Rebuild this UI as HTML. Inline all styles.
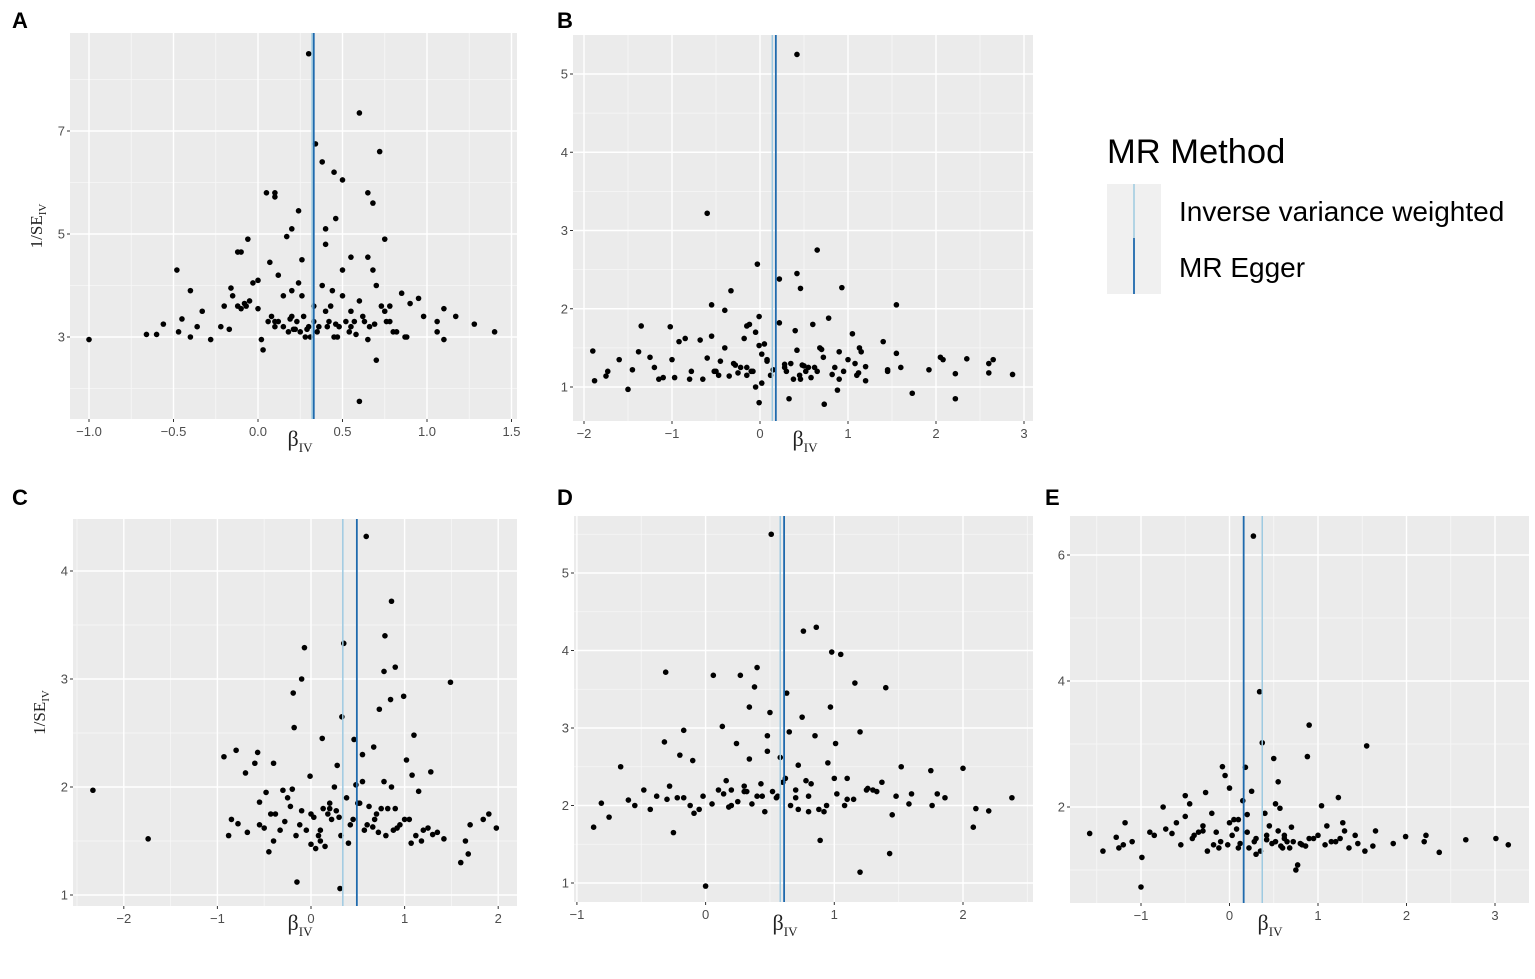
<!DOCTYPE html>
<html><head><meta charset="utf-8"><style>
html,body{margin:0;padding:0;background:#fff;}
svg{display:block;font-family:"Liberation Sans",sans-serif;}
</style></head><body>
<svg id="fig" width="1535" height="979" viewBox="0 0 1535 979"></svg>
<script>
// ---- Panel data (beta_IV, 1/SE_IV) ----
const aX=[0.3,0.6,0.34,0.72,0.38,0.45,0.5,0.65,0.05,0.1,0.1,0.68,0.24,0.46,0.2,0.4,0.75,-0.06,-0.1,-0.12,0.55,-0.48,0.26,0.65,0.07,-0.4,-0.15,0.0,-1.0,-0.66,-0.6,-0.56,-0.47,-0.4,-0.33,-0.28,-0.22,-0.17,-0.12,-0.08,0.0,0.02,0.03,0.1,0.15,0.2,0.25,0.3,0.35,0.4,0.45,0.5,0.55,0.6,0.62,0.65,0.7,0.75,0.8,0.85,0.88,0.95,1.06,1.1,1.1,1.17,1.28,1.4,0.87,0.2,0.33,0.12,0.5,0.7,0.6,-0.05,0.15,0.42,0.26,0.78,0.44,0.31,0.55,-0.2,0.22,0.38,0.68,0.48,
 -0.45,-0.36,-0.16,-0.1,-0.07,0.06,0.08,0.1,0.12,0.18,0.19,0.21,0.23,0.27,0.28,0.29,0.33,0.36,0.41,0.43,0.46,0.52,0.54,0.57,0.58,0.63,0.66,0.69,0.73,0.76,0.78,0.82,0.9,0.98,1.06,0.17,0.24,0.4,-0.03,0.47];
const aY=[8.5,7.35,6.75,6.6,6.4,6.2,6.05,5.8,5.8,5.8,5.72,5.6,5.45,5.3,5.1,5.1,4.9,4.9,4.65,4.65,4.55,4.3,4.5,4.55,4.45,3.9,3.8,4.1,2.95,3.05,3.05,3.25,3.1,3.0,3.5,2.95,3.2,3.15,3.6,3.65,3.55,2.95,2.75,3.3,3.2,3.4,3.1,3.2,3.1,3.5,3.0,3.8,3.2,1.75,3.4,2.95,2.55,3.5,3.1,3.85,3.0,3.75,3.1,2.95,3.55,3.4,3.25,3.1,3.0,3.9,3.6,4.2,4.3,4.0,3.7,3.7,3.8,3.3,3.8,3.6,3.9,3.0,3.5,3.6,3.15,4.0,4.3,3.2,
 3.35,3.2,3.95,3.55,3.6,3.3,3.4,3.2,3.3,3.1,3.35,3.15,3.3,3.4,3.0,3.15,3.3,3.2,3.2,3.6,3.25,3.3,3.1,3.3,3.05,3.3,3.2,3.25,3.6,3.3,3.3,3.1,3.65,3.4,3.3,4.95,4.05,4.8,4.05,3.0];
const bX=[0.42,-0.6,0.65,-0.03,0.42,0.22,0.93,0.46,1.55,-0.55,-0.33,-0.01,-1.9,-1.88,-1.73,-1.5,-1.38,-1.35,-1.2,-1.02,-0.92,-0.78,-0.68,-0.6,-0.45,-0.4,-0.28,-0.18,-0.12,-0.01,-0.01,0.02,0.12,0.22,0.28,0.33,0.3,0.42,0.48,0.6,0.68,0.73,0.82,0.88,1.0,1.05,1.12,1.2,1.4,1.45,1.6,1.73,1.92,2.05,2.22,2.22,2.35,2.6,2.65,2.87,-0.25,-0.1,0.9,-0.15,0.55,-0.55,0.08,0.46,-1.1,-0.5,-0.4,0.02,1.13,-0.8,0.78,0.4,-0.15,0.7,-1.6,-0.05,
 -1.75,-1.45,-1.25,-1.15,-1.0,-0.97,-0.85,-0.65,-0.52,-0.47,-0.35,-0.3,-0.22,-0.15,-0.08,-0.05,0.05,0.08,0.15,0.28,0.35,0.38,0.45,0.5,0.52,0.58,0.62,0.65,0.72,0.85,0.9,0.95,1.08,1.1,1.15,1.2,1.45,1.55,2.08,2.6];
const bY=[5.25,3.22,2.75,2.57,2.45,2.38,2.27,2.26,2.05,2.05,2.23,1.9,1.46,1.08,1.2,0.97,1.45,1.78,1.25,1.77,1.58,1.2,1.6,1.37,1.33,1.5,1.28,1.62,1.8,1.53,0.8,1.42,1.15,1.82,1.29,0.85,1.2,1.47,1.28,1.8,1.5,0.78,1.16,0.96,1.35,1.68,1.18,1.26,1.58,1.22,1.25,0.92,1.22,1.38,1.17,0.85,1.36,1.3,1.35,1.16,1.18,1.2,1.45,1.25,1.25,1.65,1.33,1.1,1.12,1.2,1.98,1.05,1.5,1.1,1.88,1.72,1.78,1.48,1.35,1.7,
 1.14,1.22,1.38,1.1,1.35,1.12,1.62,1.1,1.2,1.15,1.14,1.3,1.25,1.15,1.2,1.0,1.55,1.35,1.22,1.25,1.3,1.1,1.15,1.27,1.2,1.12,1.25,1.2,1.38,1.25,1.1,1.2,1.3,1.15,1.45,1.08,1.2,1.43,1.35,1.18];
const cX=[0.59,0.86,0.79,0.35,-0.07,0.9,0.78,1.49,-0.1,-0.19,0.73,0.85,0.99,-2.33,-1.74,-0.93,-0.8,-0.57,-0.4,-0.18,0.33,0.46,1.1,0.67,-0.55,-0.5,-0.43,-0.3,-0.16,-0.15,-0.1,0.0,0.1,0.2,0.3,0.31,0.4,0.5,0.6,0.7,0.8,0.9,1.0,1.07,1.2,1.3,1.42,1.6,1.65,1.7,1.84,1.9,1.98,-0.88,-0.7,-0.01,0.25,0.55,0.86,1.28,-0.33,0.15,0.66,1.08,-0.55,0.45,-0.25,0.2,0.1,1.15,-0.6,0.38,0.75,-0.45,0.05,1.02,
 -0.78,-0.68,-0.48,-0.38,-0.28,-0.22,-0.12,-0.05,0.03,0.08,0.13,0.18,0.22,0.27,0.32,0.42,0.52,0.57,0.62,0.68,0.72,0.82,0.88,0.95,1.12,1.18,1.25,1.35,-0.2,0.12,0.28,0.55,0.78,-0.4,0.0,0.48,0.92,1.05,1.68,-0.85];
const cY=[4.32,3.72,3.4,3.33,3.29,3.11,3.07,2.97,3.0,2.87,2.72,2.81,2.84,1.97,1.52,2.28,2.34,2.32,2.22,2.55,2.65,2.44,2.48,2.37,1.86,1.62,1.75,1.97,1.55,1.12,1.78,1.47,1.6,1.8,1.72,1.06,1.48,1.85,1.65,1.75,1.55,1.8,1.7,1.48,1.6,1.56,1.52,1.3,1.5,1.65,1.7,1.75,1.62,1.55,2.13,2.1,2.0,2.05,2.0,2.14,1.6,1.45,1.63,2.11,1.65,1.7,1.9,1.85,1.5,1.96,2.22,1.9,1.8,1.4,1.43,2.25,
 1.66,1.58,1.95,1.75,1.68,1.82,1.65,1.6,1.72,1.55,1.8,1.75,1.7,1.78,1.55,1.65,1.85,1.6,1.82,1.7,1.58,1.8,1.6,1.65,1.55,1.5,1.62,1.58,1.98,2.45,2.2,2.3,2.05,1.5,1.75,2.02,1.62,1.7,1.38,1.7];
const dX=[0.51,0.86,0.76,0.98,1.05,-0.31,0.06,0.4,0.27,0.38,1.16,1.4,0.63,0.34,0.75,0.5,0.97,0.13,-0.17,-0.32,-0.66,-0.87,-0.81,-0.6,-0.48,-0.43,-0.28,-0.17,-0.09,0.0,-0.02,0.1,0.2,0.3,0.4,0.56,0.6,0.7,0.8,0.89,1.01,1.1,1.2,1.3,1.43,1.52,1.6,1.75,1.76,1.86,2.0,2.08,2.1,2.2,2.38,0.24,0.48,0.85,1.25,-0.1,0.65,0.95,0.48,1.0,-0.25,0.16,1.37,0.72,-0.2,0.34,0.92,1.2,
 -0.75,-0.55,-0.38,-0.3,-0.22,-0.12,-0.05,0.05,0.14,0.18,0.25,0.32,0.36,0.43,0.46,0.52,0.55,0.62,0.66,0.72,0.78,0.82,0.88,0.94,1.02,1.08,1.15,1.26,1.33,1.45,1.48,1.58,1.8,0.3,0.44,0.58,0.7,0.8,1.1,0.2];
const dY=[5.5,4.3,4.25,3.98,3.95,3.72,3.68,3.78,3.68,3.53,3.58,3.52,3.45,3.27,3.14,3.2,3.27,3.02,2.97,2.82,2.5,1.72,2.03,2.07,2.2,1.95,2.25,2.1,1.9,0.96,2.12,2.2,2.0,2.25,2.12,2.12,2.3,2.1,1.92,1.55,2.8,2.08,1.14,2.2,1.38,2.5,2.15,2.45,2.0,2.1,2.48,1.72,1.96,1.93,2.1,2.8,2.7,2.9,2.2,2.58,2.95,2.55,2.9,2.35,1.65,2.32,2.3,2.52,2.65,2.6,1.92,2.95,
 1.85,2.0,2.12,2.08,2.1,2.0,1.95,2.02,2.15,1.98,2.05,2.18,2.02,2.28,1.92,2.18,2.1,2.35,2.0,1.95,2.32,2.28,1.95,2.0,2.15,2.0,2.08,2.22,2.18,1.88,2.12,2.02,2.15,2.18,2.12,2.62,2.2,2.12,2.35,2.2];
const eX=[0.27,0.34,0.9,1.55,0.37,0.5,0.55,0.88,0.18,-0.08,-0.27,-0.5,-1.58,-1.43,-1.28,-1.2,-1.18,-1.0,-0.99,-0.9,-0.75,-0.72,-0.6,-0.5,-0.4,-0.3,-0.2,-0.1,0.0,0.1,0.2,0.3,0.4,0.52,0.6,0.75,0.7,0.82,0.9,1.0,1.1,1.2,1.3,1.42,1.53,1.65,1.85,1.99,2.2,2.22,2.37,2.67,3.01,3.15,0.57,0.05,-0.15,0.3,0.77,0.15,0.45,1.04,1.23,-0.45,0.65,-0.05,0.25,0.52,
 -1.25,-1.1,-0.85,-0.65,-0.55,-0.42,-0.35,-0.25,-0.18,-0.12,-0.02,0.03,0.08,0.12,0.22,0.28,0.35,0.42,0.48,0.58,0.62,0.68,0.72,0.8,0.86,0.95,1.08,1.15,1.25,1.35,1.45,1.62,0.2,0.55,-0.3,0.1,0.62,1.28,0.0,0.42];
const eY=[6.3,3.83,3.3,2.97,3.02,2.77,2.4,2.8,2.63,2.64,2.23,2.18,1.58,1.3,1.52,1.4,1.75,0.73,1.2,1.6,2.0,1.65,1.75,1.85,1.55,1.62,1.9,1.45,1.75,1.35,1.88,1.5,1.9,1.45,1.35,1.0,1.68,1.4,1.5,1.55,1.7,1.45,1.62,1.55,1.3,1.62,1.42,1.53,1.45,1.55,1.28,1.48,1.5,1.4,1.98,1.8,1.6,1.25,1.08,2.1,1.7,2.02,2.15,2.05,1.45,2.5,2.25,2.05,
 1.35,1.45,1.55,1.58,1.4,1.5,1.6,1.3,1.4,1.35,1.4,1.55,1.65,1.42,1.35,1.45,1.3,1.48,1.42,1.38,1.5,1.35,1.45,1.42,1.38,1.5,1.4,1.45,1.5,1.35,1.42,1.38,1.6,1.62,1.7,1.8,1.55,1.75,2.3,1.55];
// MR estimates per panel: [IVW, Egger]
const ivw=[0.32,0.14,0.34,0.58,0.37];
const egger=[0.33,0.18,0.49,0.61,0.16];
// ticks
const aXt=[-1.0,-0.5,0.0,0.5,1.0,1.5], aYt=[3,5,7];
const bXt=[-2,-1,0,1,2,3], bYt=[1,2,3,4,5];
const cXt=[-2,-1,0,1,2], cYt=[1,2,3,4];
const dXt=[-1,0,1,2], dYt=[1,2,3,4,5];
const eXt=[-1,0,1,2,3], eYt=[2,4,6];

const NS="http://www.w3.org/2000/svg";
const svg=document.getElementById('fig');
function mk(tag,attrs,parent){const e=document.createElementNS(NS,tag);for(const k in attrs)e.setAttribute(k,attrs[k]);(parent||svg).appendChild(e);return e;}

const panels=[
 {L:'A',xs:aX,ys:aY,xt:aXt,yt:aYt,fmt:1,box:[70,33,517,419],x0:258,xu:169,yv:3,yp:337,yu:51.5,lx:12,ly:28,title:true,tx:300,ty:446},
 {L:'B',xs:bX,ys:bY,xt:bXt,yt:bYt,fmt:0,box:[573,35,1033,421],x0:760,xu:88,yv:1,yp:387,yu:78.25,lx:557,ly:28,title:false,tx:805,ty:446},
 {L:'C',xs:cX,ys:cY,xt:cXt,yt:cYt,fmt:0,box:[73,519,517,906],x0:311,xu:93.6,yv:1,yp:895,yu:108,lx:12,ly:505,title:true,tx:300,ty:930},
 {L:'D',xs:dX,ys:dY,xt:dXt,yt:dYt,fmt:0,box:[574,516,1033,902],x0:705.6,xu:128.7,yv:1,yp:883,yu:77.5,lx:557,ly:505,title:false,tx:785,ty:930},
 {L:'E',xs:eX,ys:eY,xt:eXt,yt:eYt,fmt:0,box:[1070,516,1529,903],x0:1229.5,xu:88.5,yv:2,yp:807,yu:63,lx:1045,ly:505,title:false,tx:1270,ty:930}
];

panels.forEach((p,pi)=>{
 const g=mk('g',{});
 
 
 const X=v=>p.x0+p.xu*v, Y=v=>p.yp-(v-p.yv)*p.yu;
 const [l,t,r,b]=p.box;
 const lab=mk('text',{x:p.lx,y:p.ly,'font-size':22,'font-weight':'bold',fill:'#000'},g);
 lab.textContent=p.L;
 
 
 const bg=mk('rect',{x:l,y:t,width:r-l,height:b-t,fill:'#ebebeb'},g);
 
 
 const xstep=p.xt[1]-p.xt[0], ystep=p.yt[1]-p.yt[0];
 for(let v=p.xt[0]-xstep*1.5;v<=p.xt[p.xt.length-1]+xstep;v+=xstep){const px=X(v);if(px>l&&px<r)mk('line',{x1:px,x2:px,y1:t,y2:b,stroke:'#f7f7f7','stroke-width':0.8},g);}
 for(let v=p.yt[0]-ystep*1.5;v<=p.yt[p.yt.length-1]+ystep;v+=ystep){const py=Y(v);if(py>t&&py<b)mk('line',{x1:l,x2:r,y1:py,y2:py,stroke:'#f7f7f7','stroke-width':0.8},g);}
 p.xt.forEach(v=>{const px=X(v);
  mk('line',{x1:px,x2:px,y1:t,y2:b,stroke:'#fff','stroke-width':1.4},g);
  mk('line',{x1:px,x2:px,y1:b,y2:b+3,stroke:'#333','stroke-width':1},g);
  const tx=mk('text',{x:px,y:b+17,'font-size':13,fill:'#4d4d4d','text-anchor':'middle'},g);
  tx.textContent=(v<0?'\u2212':'')+Math.abs(v).toFixed(p.fmt);
  
  
 });
 p.yt.forEach(v=>{const py=Y(v);
  mk('line',{x1:l,x2:r,y1:py,y2:py,stroke:'#fff','stroke-width':1.4},g);
  mk('line',{x1:l-3,x2:l,y1:py,y2:py,stroke:'#333','stroke-width':1},g);
  const ty=mk('text',{x:l-5,y:py+4.5,'font-size':13,fill:'#4d4d4d','text-anchor':'end'},g);
  ty.textContent=String(v);
  
  
 });
 p.xs.forEach((v,i)=>{const c=mk('circle',{cx:X(v),cy:Y(p.ys[i]),r:2.8,fill:'#000'},g);
  
  
 });
 const li=mk('line',{x1:X(ivw[pi]),x2:X(ivw[pi]),y1:t,y2:b,stroke:'#9ecae1','stroke-width':1.5},g);
 
 
 const le=mk('line',{x1:X(egger[pi]),x2:X(egger[pi]),y1:t,y2:b,stroke:'#1f6aad','stroke-width':1.8},g);
 
 
 const xt=mk('text',{x:p.tx,y:p.ty,'font-size':22,fill:'#222','font-family':'Liberation Serif, serif','text-anchor':'middle'},g);
 xt.innerHTML='β<tspan font-size="13" dy="6">IV</tspan>';
 
 
 if(p.title){
  const cy=(t+b)/2, cx=l-28;
  const yt=mk('text',{x:cx,y:cy,'font-size':17,fill:'#222','font-family':'Liberation Serif, serif','text-anchor':'middle',transform:'rotate(-90 '+cx+' '+cy+')'},g);
  yt.innerHTML='1/SE<tspan font-size="11" dy="4">IV</tspan>';
  
  
 }
});
</script>
<svg style="position:absolute;left:0;top:0" width="1535" height="979">
 <text x="1107" y="163" font-family="Liberation Sans, sans-serif" font-size="34.5" fill="#000">MR Method</text>
 <rect x="1107" y="184" width="54" height="110" fill="#f0f0f0"/>
 <line x1="1134" x2="1134" y1="184" y2="238" stroke="#9ecae1" stroke-width="1.5"/>
 <line x1="1134" x2="1134" y1="238" y2="294" stroke="#1f6aad" stroke-width="1.8"/>
 <text x="1179" y="221" font-family="Liberation Sans, sans-serif" font-size="28" fill="#000">Inverse variance weighted</text>
 <text x="1179" y="277" font-family="Liberation Sans, sans-serif" font-size="28" fill="#000">MR Egger</text>
</svg>
</body></html>
